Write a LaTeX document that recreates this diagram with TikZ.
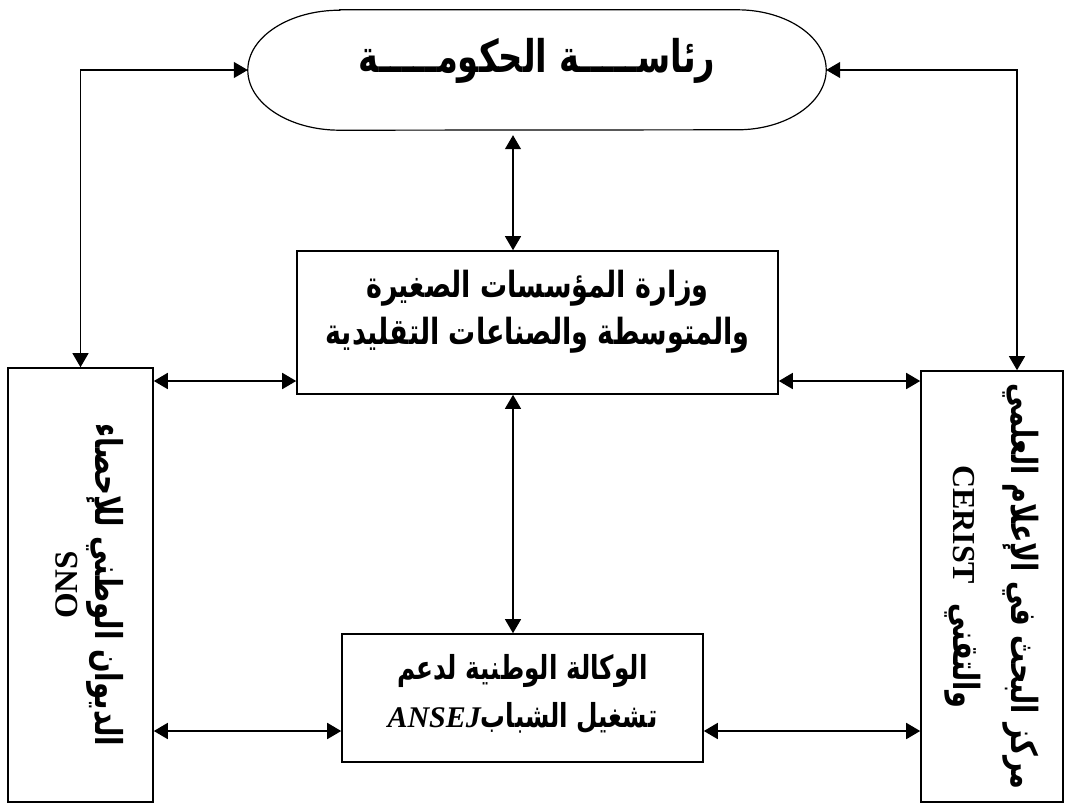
\documentclass[tikz,border=0pt]{standalone}
\usepackage{fontspec}
\usepackage{graphicx}
\usetikzlibrary{calc,arrows.meta}
\TeXXeTstate=1
\newfontfamily\arabicfont[Script=Arabic,FakeStretch=0.75]{DejaVu Sans}
\newfontfamily\latinfont{Liberation Serif}

\begin{document}
\begin{tikzpicture}[x=1pt,y=-1pt,
	box/.style={draw,line width=1.6pt,inner sep=0pt},
	link/.style={{Triangle[length=14pt,width=16pt]}-{Triangle[length=14pt,width=16pt]},line width=1.2pt},
	every label/.style={align=center,font=\arabicfont\bfseries},
	]
	\useasboundingbox (0,0) rectangle (1065,804);

	\pgfmathsetmacro{\spine}{513}		%x of the central links
	\pgfmathsetmacro{\rightbus}{1017}	%x of the right link

	\coordinate (spine) at (\spine,0);
	\coordinate (rightbus) at (\rightbus,0);
	\coordinate (row1) at (0,381);		%upper row of side links
	\coordinate (row2) at (0,731);		%lower row of side links

	%government
	\node[minimum width=578pt,minimum height=120pt,inner sep=0pt,
		label={[yshift=9pt,font=\arabicfont\bfseries\fontsize{45}{50}\selectfont]center:\beginR رئاســـــة الحكومـــــة\endR}] (gov) at (537,70) {};
	\draw[line width=1.2pt] ([xshift=92pt]gov.north west) -- ([xshift=-89pt]gov.north east)
		arc[start angle=90,end angle=-90,x radius=89pt,y radius=60pt]
		-- ([xshift=92pt]gov.south west)
		arc[start angle=270,end angle=90,x radius=92pt,y radius=60pt] -- cycle;

	%ministry
	\node[box,minimum width=481pt,minimum height=143pt,
		label={[yshift=11pt,font=\arabicfont\bfseries\fontsize{36}{47}\selectfont]center:\beginR وزارة المؤسسات الصغيرة\endR\\\beginR والمتوسطة والصناعات التقليدية\endR}] (min) at (537.5,322.5) {};

	%agency
	\node[box,minimum width=361pt,minimum height=128pt,
		label={[yshift=4pt,font=\arabicfont\bfseries\fontsize{33}{48}\selectfont]center:\beginR الوكالة الوطنية لدعم\endR\\\beginR تشغيل الشباب\beginL{\latinfont\itshape\fontsize{30}{48}\selectfont ANSEJ}\endL\endR}] (ansej) at (522.5,698) {};

	%side boxes
	\node[box,minimum width=145pt,minimum height=434pt,
		label={[rotate=-90,yshift=9pt,font=\arabicfont\bfseries\fontsize{37}{40}\selectfont]center:\beginR الديوان  الوطني  للإحصاء\endR\\\rotatebox[origin=c]{180}{\latinfont\fontsize{33}{40}\selectfont ONS}}] (ons) at (80.5,585) {};
	\node[box,minimum width=142pt,minimum height=431pt,
		label={[rotate=-90,font=\arabicfont\bfseries\fontsize{36}{58}\selectfont]center:\beginR مركز البحث في الإعلام العلمي\endR\\\beginR والتقني~~\beginL{\latinfont\fontsize{32}{58}\selectfont CERIST}\endL\endR}] (cerist) at (992,586.5) {};

	%links
	\draw[link] (gov.west) -| (ons.north);
	\draw[link] (gov.east) -| (cerist.north -| rightbus);
	\draw[link] ([yshift=-5pt]gov.south -| spine) -- (min.north -| spine);
	\draw[link] (min.south -| spine) -- (ansej.north -| spine);
	\draw[link,line width=1.8pt] (ons.east |- row1) -- (min.west |- row1);
	\draw[link,line width=1.8pt] (min.east |- row1) -- (cerist.west |- row1);
	\draw[link,line width=1.8pt] (ons.east |- row2) -- (ansej.west |- row2);
	\draw[link,line width=1.8pt] (ansej.east |- row2) -- (cerist.west |- row2);
\end{tikzpicture}
\end{document}
